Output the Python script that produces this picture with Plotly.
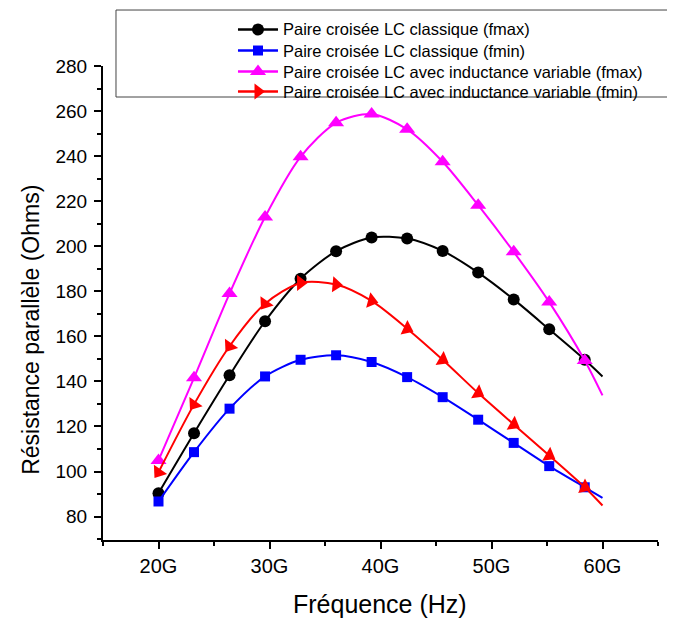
import plotly.graph_objects as go

freq_ghz = [20, 23.2, 26.4, 29.6, 32.8, 36, 39.2, 42.4, 45.6, 48.8, 52, 55.2, 58.4, 60]
lc_classique_fmax = [90.4, 117.0, 142.7, 166.7, 185.6, 197.8, 203.9, 203.4, 197.9, 188.3, 176.4, 163.1, 149.6, 142.2]
lc_classique_fmin = [86.7, 108.6, 127.9, 142.2, 149.6, 151.6, 148.6, 141.9, 133.0, 123.0, 112.7, 102.4, 93.0, 88.3]
lc_var_fmax = [104.9, 141.6, 179.0, 213.0, 239.7, 254.8, 258.7, 251.9, 237.5, 218.2, 197.5, 175.2, 149.3, 133.8]
lc_var_fmin = [99.7, 129.8, 155.6, 174.5, 183.7, 183.0, 175.7, 163.4, 149.6, 134.8, 120.9, 107.1, 93.0, 84.9]
names = [
    "Paire croisée LC classique (fmax)",
    "Paire croisée LC classique (fmin)",
    "Paire croisée LC avec inductance variable (fmax)",
    "Paire croisée LC avec inductance variable (fmin)",
]
x_title = "Fréquence (Hz)"
y_title = "Résistance parallèle (Ohms)"

x = [f * 1e9 for f in freq_ghz]
n = len(x)

FONT = "Liberation Sans, Arial, sans-serif"

series = [
    (lc_classique_fmax, "black", "circle", 12, None),
    (lc_classique_fmin, "#0000FF", "square", 10, None),
    (lc_var_fmax, "#FF00FF", "triangle-up", 14, None),
    (lc_var_fmin, "#FF0000", "triangle-right", 14,
     [125, 125, 125, 125, 0, 5, 15, 25, 30, 30, 30, 30, 25, 0]),
]

fig = go.Figure()
for (vals, col, sym, sz, ang), name in zip(series, names):
    sizes = [sz] * (n - 1) + [0]
    marker = dict(color=col, symbol=sym, size=sizes, opacity=1, line=dict(width=0))
    if ang is not None:
        marker["angle"] = ang
    fig.add_trace(go.Scatter(
        x=x, y=vals, mode="lines+markers", name=name,
        line=dict(color=col, width=2, shape="spline", smoothing=0.8),
        marker=marker, showlegend=False,
    ))

# ---- hand-built legend (box, line samples, symbols, labels) ----
leg_rows_y = [0.9596, 0.9201, 0.8806, 0.8430]
leg_x0, leg_x1, leg_xm, leg_tx = 0.2432, 0.3153, 0.2793, 0.3210

fig.add_shape(type="rect", xref="paper", yref="paper",
              x0=0.0234, x1=1.018, y0=0.8327, y1=0.9962,
              line=dict(color="#444444", width=1), fillcolor="rgba(0,0,0,0)", layer="below")

for (vals, col, sym, sz, ang), name, ry in zip(series, names, leg_rows_y):
    fig.add_shape(type="line", xref="paper", yref="paper",
                  x0=leg_x0, x1=leg_x1, y0=ry, y1=ry,
                  line=dict(color=col, width=2.5), layer="below")
    fig.add_annotation(text=name, xref="paper", yref="paper", x=leg_tx, y=ry,
                       xanchor="left", yanchor="middle", showarrow=False,
                       font=dict(size=16.5, family=FONT, color="black"))

fig.add_trace(go.Scatter(
    x=[leg_xm] * 4, y=leg_rows_y, xaxis="x2", yaxis="y2", mode="markers",
    marker=dict(color=[s[1] for s in series], symbol=[s[2] for s in series],
                size=[12, 10, 14, 14], opacity=1, line=dict(width=0)),
    cliponaxis=False, showlegend=False, hoverinfo="skip",
))

fig.add_annotation(text=x_title, xref="paper", yref="paper", x=0.499, y=-0.1203,
                   xanchor="center", yanchor="middle", showarrow=False,
                   font=dict(size=25, family=FONT, color="black"))
fig.add_annotation(text=y_title, xref="paper", yref="paper", x=-0.130, y=0.3947,
                   xanchor="center", yanchor="middle", showarrow=False, textangle=-90,
                   font=dict(size=23, family=FONT, color="black"))

fig.update_layout(
    width=667, height=610,
    margin=dict(l=95, r=17, t=0, b=78, autoexpand=False),
    paper_bgcolor="white", plot_bgcolor="rgba(0,0,0,0)",
    font=dict(family=FONT, color="black"),
    showlegend=False,
    xaxis=dict(
        range=[15e9, 65e9], dtick=10e9, tick0=0, tickformat="~s",
        showgrid=False, zeroline=False,
        showline=True, linecolor="black", linewidth=2,
        ticks="outside", ticklen=7, tickwidth=2, tickcolor="black",
        tickfont=dict(size=20, family=FONT), ticklabelstandoff=0,
        minor=dict(dtick=5e9, tick0=0, ticks="outside", ticklen=4, tickwidth=2, tickcolor="black", showgrid=False),
    ),
    yaxis=dict(
        domain=[0, 474 / 532],
        range=[69.6, 280], dtick=20, tick0=0,
        showgrid=False, zeroline=False,
        showline=True, linecolor="black", linewidth=2,
        ticks="outside", ticklen=7, tickwidth=2, tickcolor="black",
        tickfont=dict(size=19, family=FONT), ticklabelstandoff=3,
        minor=dict(dtick=10, tick0=0, ticks="outside", ticklen=4, tickwidth=2, tickcolor="black", showgrid=False),
    ),
    xaxis2=dict(domain=[0, 1], anchor="y2", range=[0, 1], visible=False, fixedrange=True),
    yaxis2=dict(domain=[0, 1], anchor="x2", range=[0, 1], visible=False, fixedrange=True),
)

fig.write_html("out.html")
